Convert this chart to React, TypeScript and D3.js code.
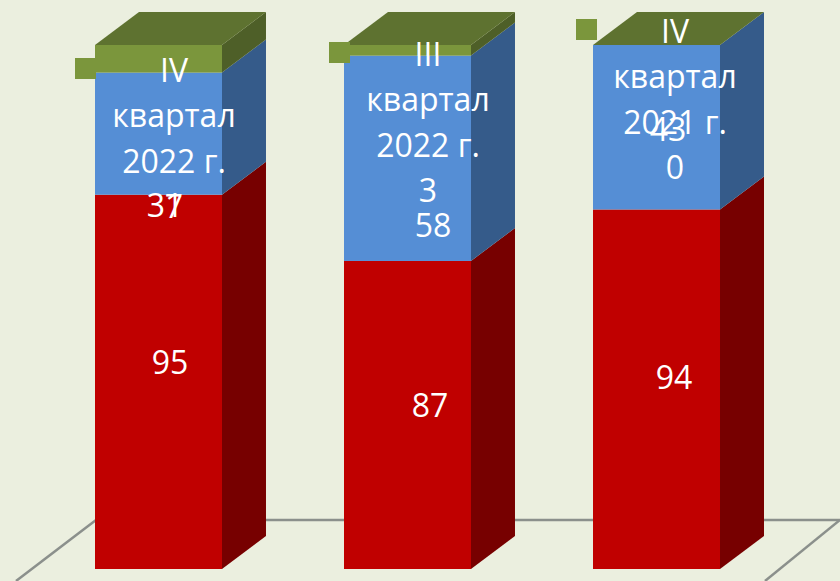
import React, { useRef, useEffect } from 'react';
import * as d3 from 'd3';

const CATEGORIES = ['IV квартал 2022 г.', 'III квартал 2022 г.', 'IV квартал 2021 г.'];
const SERIES_KEYS = ['red', 'blue', 'green'];
const RED_VALUES = [95, 87, 94];
const BLUE_VALUES = [31, 58, 43];
const GREEN_VALUES = [7, 3, 0];

// wrapped category text inside the green labels
const CATEGORY_LINES = [
    ['IV', 'квартал', '2022 г.'],
    ['III', 'квартал', '2022 г.'],
    ['IV', 'квартал', '2021 г.'],
];

const W = 840;
const H = 581;
const BASE_Y = 569;
const TOP_Y = 45;
const DX = 44;   // 3D depth
const DY = 33;
const FONT = '"Open Sans", sans-serif';
const FONT_SIZE = 32;
const LINE_H = 45.5;

const FRONT = { red: '#c00000', blue: '#558ed5', green: '#7b963c' };
const SIDE = { red: '#770000', blue: '#355b8a', green: '#4e5f28' };
const TOP_COLOR = '#5e7230';

// label anchor tweaks, the chart had them dragged around by hand
const RED_LABEL_POS = [[170, 361], [430, 404], [674, 376]];
const BLUE_LABEL_POS = [[165, 204], [433, 224], [668, 128]];
const GREEN_LABEL_POS = [[174, 69], [428, 53], [675, 30]];
const KEY_POS = [[75, 58], [329, 42], [576, 19]];

const App = () => {
    const svgRef = useRef<SVGSVGElement>(null);

    useEffect(() => {
        if (!svgRef.current) return;
        const svg = d3.select(svgRef.current);
        svg.selectAll('*').remove();

        const rows = CATEGORIES.map((c, i) => ({
            category: c, red: RED_VALUES[i], blue: BLUE_VALUES[i], green: GREEN_VALUES[i],
        }));
        const stacked = d3.stack<any>().keys(SERIES_KEYS).offset(d3.stackOffsetExpand)(rows);

        const x = d3.scaleBand().domain(CATEGORIES).range([95, 720]).paddingInner(0.49).paddingOuter(0);
        const y = d3.scaleLinear().domain([0, 1]).range([BASE_Y, TOP_Y]);
        const bw = x.bandwidth();

        svg.append('rect').attr('width', W).attr('height', H).attr('fill', '#ebefdf');

        // Floor
        const floor = d3.line();
        const backY = BASE_Y - 49;
        const floorG = svg.append('g').attr('fill', 'none').attr('stroke', '#8b908c').attr('stroke-width', 2.5);
        floorG.append('path').attr('d', floor([[95, backY], [W, backY]]));
        floorG.append('path').attr('d', floor([[16, H], [96, backY]]));
        floorG.append('path').attr('d', floor([[765, H], [W, backY]]));

        // Side faces
        stacked.forEach(s => {
            svg.append('g').selectAll('polygon').data(s).enter().append('polygon')
                .attr('fill', SIDE[s.key])
                .attr('points', (d: any) => {
                    const r = x(d.data.category)! + bw;
                    return [[r, y(d[0])], [r + DX, y(d[0]) - DY], [r + DX, y(d[1]) - DY], [r, y(d[1])]].join(' ');
                });
        });

        // Front faces
        stacked.forEach(s => {
            svg.append('g').selectAll('rect').data(s).enter().append('rect')
                .attr('x', (d: any) => x(d.data.category)!)
                .attr('y', (d: any) => y(d[1]))
                .attr('width', bw)
                .attr('height', (d: any) => y(d[0]) - y(d[1]))
                .attr('fill', FRONT[s.key]);
        });

        // Top faces
        svg.append('g').selectAll('polygon').data(CATEGORIES).enter().append('polygon')
            .attr('fill', TOP_COLOR)
            .attr('points', c => {
                const l = x(c)!;
                return [[l, y(1)], [l + DX, y(1) - DY], [l + bw + DX, y(1) - DY], [l + bw, y(1)]].join(' ');
            });

        // Legend keys of the green labels
        svg.append('g').selectAll('rect').data(KEY_POS).enter().append('rect')
            .attr('x', d => d[0]).attr('y', d => d[1])
            .attr('width', 21).attr('height', 21)
            .attr('fill', FRONT.green);

        const labels = svg.append('g')
            .attr('fill', '#fff')
            .attr('font-family', FONT)
            .attr('font-size', FONT_SIZE)
            .attr('text-anchor', 'middle')
            .attr('dominant-baseline', 'central');

        RED_VALUES.forEach((v, i) => {
            labels.append('text').attr('x', RED_LABEL_POS[i][0]).attr('y', RED_LABEL_POS[i][1]).text(v);
        });
        BLUE_VALUES.forEach((v, i) => {
            labels.append('text').attr('x', BLUE_LABEL_POS[i][0]).attr('y', BLUE_LABEL_POS[i][1]).text(v);
        });
        GREEN_VALUES.forEach((v, i) => {
            const [lx, ly] = GREEN_LABEL_POS[i];
            [...CATEGORY_LINES[i], String(v)].forEach((line, j) => {
                labels.append('text')
                    .attr('x', lx)
                    .attr('y', ly + j * LINE_H)
                    .text(line);
            });
        });
    }, []);

    return (
        <svg ref={svgRef} width={W} height={H}
            style={{ position: 'absolute', left: 0, top: 0, display: 'block' }} />
    );
};

export default App;
